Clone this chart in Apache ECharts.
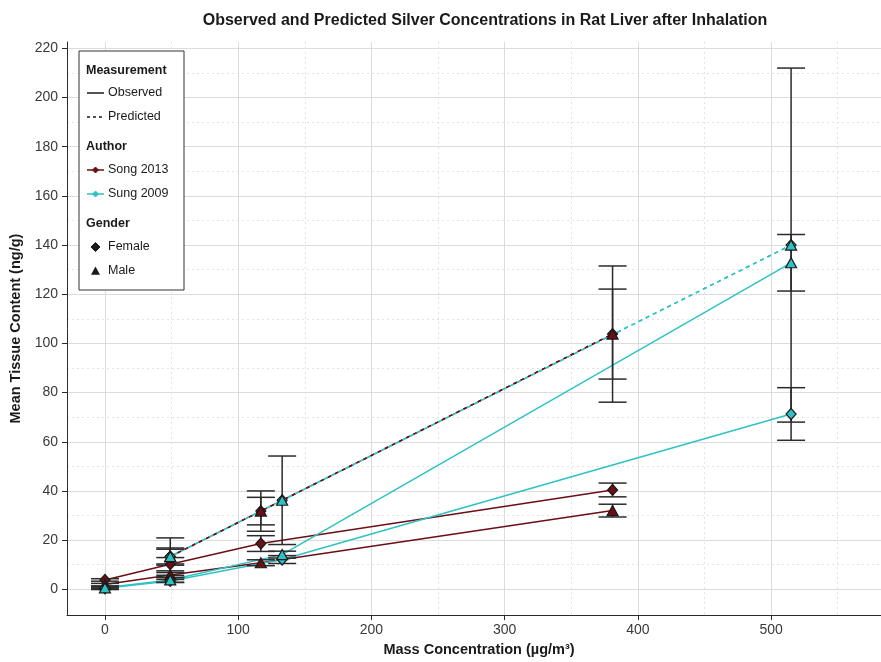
<!DOCTYPE html>
<html>
<head>
<meta charset="utf-8">
<script src="https://cdn.jsdelivr.net/npm/echarts@6/dist/echarts.min.js"></script>
<style>
  html, body { margin: 0; padding: 0; background: #ffffff; overflow: hidden; width: 881px; height: 662px; }
  /* the panel runs a little past the right edge of the page */
  #chart { width: 900px; height: 662px; }
</style>
</head>
<body>
<div id="chart"></div>
<script>
// ---- Exposure levels (µg/m³) ----
const songDose = [0, 49, 117, 381];
const sungDose = [0, 49, 133, 515];
const songPredDose = [49, 117, 381];
const sungPredDose = [49, 133, 515];

// ---- Observed mean liver content (ng/g) and standard deviations ----
const songObsFemale   = [3.8, 10.2, 18.6, 40.4];
const songObsFemaleSd = [0.5, 2.7, 3.2, 2.8];
const songObsMale     = [1.9, 5.8, 10.8, 32.0];
const songObsMaleSd   = [0.5, 1.0, 1.2, 2.6];
const sungObsFemale   = [0.4, 3.4, 12.1, 71.3];
const sungObsFemaleSd = [0.5, 0.6, 1.6, 10.7];
const sungObsMale     = [0.6, 3.8, 14.1, 132.8];
const sungObsMaleSd   = [0.4, 1.0, 1.4, 11.5];

// ---- Model predictions (ng/g) and their spreads ----
const songPredFemale   = [13.3, 31.8, 103.8];
const songPredFemaleSd = [7.6, 8.2, 27.7];
const songPredMale     = [13.3, 31.8, 103.8];
const songPredMaleSd   = [3.5, 5.6, 18.3];
const sungPredFemale   = [13.3, 36.2, 140.0];
const sungPredFemaleSd = [3.0, 18.0, 72.0];
const sungPredMale     = [13.3, 36.2, 140.0];
const sungPredMaleSd   = [null, null, null];

// ---- Axis ticks ----
const xMajorTicks = [0, 100, 200, 300, 400, 500];
const xMinorTicks = [50, 150, 250, 350, 450, 550];
const yMajorTicks = [0, 20, 40, 60, 80, 100, 120, 140, 160, 180, 200, 220];
const yMinorTicks = [10, 30, 50, 70, 90, 110, 130, 150, 170, 190, 210];

const SONG = '#6b0f15';
const SUNG = '#2fc2c5';
const INK = '#2b2b2b';
const FONT = '"Liberation Sans", Arial, sans-serif';

const pairs = (xs, ys) => xs.map((x, i) => [x, ys[i]]);
const bars = (xs, ys, sds) => xs
  .map((x, i) => sds[i] == null ? null : [x, ys[i] - sds[i], ys[i] + sds[i]])
  .filter(d => d);

function lineSeries(xs, ys, color, dashed, offset) {
  return {
    type: 'line', data: pairs(xs, ys), symbol: 'none', z: 2, silent: true,
    lineStyle: { color: color, width: 1.5, type: dashed ? [4, 4] : 'solid', dashOffset: offset || 0 }
  };
}
function markerSeries(xs, ys, color, shape) {
  const tri = shape === 'triangle';
  return {
    type: 'scatter', data: pairs(xs, ys), z: 4, silent: true,
    symbol: shape, symbolSize: tri ? [11, 10] : [10, 11],
    itemStyle: { color: color, borderColor: '#1a1a1a', borderWidth: 1.2, opacity: 1 }
  };
}
function errorSeries(data) {
  return {
    type: 'custom', data: data, z: 3, silent: true,
    encode: { x: 0, y: [1, 2] },
    renderItem: function (params, api) {
      const x = api.value(0);
      const top = api.coord([x, api.value(2)]);
      const bot = api.coord([x, api.value(1)]);
      const hw = 14;
      const style = { stroke: INK, lineWidth: 1.5 };
      return {
        type: 'group',
        children: [
          { type: 'line', shape: { x1: top[0], y1: top[1], x2: bot[0], y2: bot[1] }, style: style },
          { type: 'line', shape: { x1: top[0] - hw, y1: top[1], x2: top[0] + hw, y2: top[1] }, style: style },
          { type: 'line', shape: { x1: bot[0] - hw, y1: bot[1], x2: bot[0] + hw, y2: bot[1] }, style: style }
        ]
      };
    }
  };
}

const errData = []
  .concat(bars(songDose, songObsFemale, songObsFemaleSd))
  .concat(bars(songDose, songObsMale, songObsMaleSd))
  .concat(bars(sungDose, sungObsFemale, sungObsFemaleSd))
  .concat(bars(sungDose, sungObsMale, sungObsMaleSd))
  .concat(bars(songPredDose, songPredFemale, songPredFemaleSd))
  .concat(bars(songPredDose, songPredMale, songPredMaleSd))
  .concat(bars(sungPredDose, sungPredFemale, sungPredFemaleSd))
  .concat(bars(sungPredDose, sungPredMale, sungPredMaleSd));

const X_MIN = -28.5, X_MAX = 590, Y_MIN = -10.5, Y_MAX = 222.6;
const axisText = { color: '#3a3a3a', fontSize: 14, fontFamily: FONT };

// ---- Legend panel ----
const LZ = 100;
function legendText(txt, x, y, bold) {
  return { type: 'text', z: LZ + 2, x: x, y: y, style: { text: txt, fill: '#1a1a1a', font: (bold ? 'bold ' : '') + '12.5px ' + FONT, textVerticalAlign: 'middle' } };
}
function legendLine(y, color, dash) {
  return { type: 'line', z: LZ + 1, shape: { x1: 87, y1: y, x2: 104, y2: y }, style: { stroke: color, lineWidth: 1.5, lineDash: dash || null } };
}
function diamond(cx, cy, r, color) {
  return { type: 'polygon', z: LZ + 2, shape: { points: [[cx, cy - r], [cx + r, cy], [cx, cy + r], [cx - r, cy]] }, style: { fill: color, stroke: color, lineWidth: 1 } };
}
function triangle(cx, cy, r, color) {
  return { type: 'polygon', z: LZ + 2, shape: { points: [[cx, cy - r], [cx + r, cy + r * 0.85], [cx - r, cy + r * 0.85]] }, style: { fill: color } };
}
const legendItems = [
  { type: 'rect', z: LZ, shape: { x: 79, y: 51, width: 105, height: 239 }, style: { fill: '#ffffff', stroke: '#333333', lineWidth: 1 } },
  legendText('Measurement', 86, 71, true),
  legendLine(93, '#1a1a1a'),
  legendText('Observed', 108, 93),
  legendLine(117, '#1a1a1a', [3, 3]),
  legendText('Predicted', 108, 117),
  legendText('Author', 86, 147, true),
  legendLine(170, SONG),
  diamond(95.5, 170, 3, SONG),
  legendText('Song 2013', 108, 170),
  legendLine(194, SUNG),
  diamond(95.5, 194, 3, SUNG),
  legendText('Sung 2009', 108, 194),
  legendText('Gender', 86, 224, true),
  diamond(95.5, 247, 4.5, '#1a1a1a'),
  legendText('Female', 108, 247),
  triangle(95.5, 271, 4.5, '#1a1a1a'),
  legendText('Male', 108, 271)
];

const chart = echarts.init(document.getElementById('chart'), null, { renderer: 'canvas' });
chart.setOption({
  backgroundColor: '#ffffff',
  animation: false,
  title: {
    text: 'Observed and Predicted Silver Concentrations in Rat Liver after Inhalation',
    left: 480, top: 8, textAlign: 'center',
    textStyle: { fontFamily: FONT, fontWeight: 'bold', fontSize: 16, color: '#1a1a1a' }
  },
  grid: { left: 67, top: 42, right: 9, bottom: 43, containLabel: false },
  xAxis: [
    {
      type: 'value', min: X_MIN, max: X_MAX,
      name: 'Mass Concentration (µg/m³)', nameLocation: 'middle', nameGap: 26,
      nameTextStyle: { fontFamily: FONT, fontWeight: 'bold', fontSize: 14.5, color: '#1a1a1a' },
      axisLine: { show: true, onZero: false, lineStyle: { color: INK, width: 1 } },
      axisTick: { show: true, length: 5, lineStyle: { color: INK }, customValues: xMajorTicks },
      axisLabel: Object.assign({ margin: 8, customValues: xMajorTicks }, axisText),
      splitLine: { show: true, lineStyle: { color: '#dcdcdc', width: 1 } }
    },
    {
      type: 'value', min: X_MIN, max: X_MAX, position: 'top',
      axisLine: { show: false }, axisLabel: { show: false },
      axisTick: { show: false, customValues: xMinorTicks },
      splitLine: { show: true, lineStyle: { color: '#e3e3e3', width: 1, type: [2, 3] } }
    }
  ],
  yAxis: [
    {
      type: 'value', min: Y_MIN, max: Y_MAX,
      name: 'Mean Tissue Content (ng/g)', nameLocation: 'middle', nameGap: 40,
      nameTextStyle: { fontFamily: FONT, fontWeight: 'bold', fontSize: 14.5, color: '#1a1a1a' },
      axisLine: { show: true, onZero: false, lineStyle: { color: INK, width: 1 } },
      axisTick: { show: true, length: 5, lineStyle: { color: INK }, customValues: yMajorTicks },
      axisLabel: Object.assign({ margin: 9, customValues: yMajorTicks }, axisText),
      splitLine: { show: true, lineStyle: { color: '#dcdcdc', width: 1 } }
    },
    {
      type: 'value', min: Y_MIN, max: Y_MAX, position: 'right',
      axisLine: { show: false }, axisLabel: { show: false },
      axisTick: { show: false, customValues: yMinorTicks },
      splitLine: { show: true, lineStyle: { color: '#e3e3e3', width: 1, type: [2, 3] } }
    }
  ],
  graphic: legendItems,
  series: [
    lineSeries(songDose, songObsFemale, SONG, false),
    lineSeries(songDose, songObsMale, SONG, false),
    lineSeries(sungDose, sungObsFemale, SUNG, false),
    lineSeries(sungDose, sungObsMale, SUNG, false),
    lineSeries(songPredDose, songPredFemale, SONG, true, 0),
    lineSeries(songPredDose, songPredMale, SONG, true, 0),
    lineSeries(sungPredDose, sungPredFemale, SUNG, true, 4),
    lineSeries(sungPredDose, sungPredMale, SUNG, true, 4),
    errorSeries(errData),
    markerSeries(songDose, songObsFemale, SONG, 'diamond'),
    markerSeries(songPredDose, songPredFemale, SONG, 'diamond'),
    markerSeries(songDose, songObsMale, SONG, 'triangle'),
    markerSeries(songPredDose, songPredMale, SONG, 'triangle'),
    markerSeries(sungDose, sungObsFemale, SUNG, 'diamond'),
    markerSeries(sungPredDose, sungPredFemale, SUNG, 'diamond'),
    markerSeries(sungDose, sungObsMale, SUNG, 'triangle'),
    markerSeries(sungPredDose, sungPredMale, SUNG, 'triangle')
  ]
});
</script>
</body>
</html>
